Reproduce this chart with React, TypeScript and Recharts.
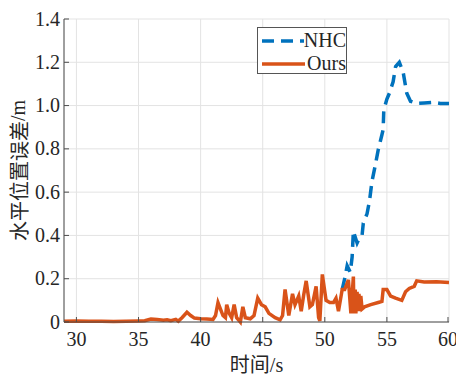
import { LineChart, Line, XAxis, YAxis, CartesianGrid, Legend } from 'recharts';

// time (s) / horizontal position error (m)
const oursTime = [29, 30, 31, 32, 33, 34, 35, 35.5, 36, 36.5, 37, 37.3, 37.6, 38, 38.2, 38.5, 38.9, 39.2, 39.5, 40, 40.5, 41, 41.2, 41.4, 41.6, 41.8, 42, 42.1, 42.3, 42.5, 42.7, 42.9, 43.2, 43.4, 43.6, 44, 44.3, 44.6, 44.9, 45.2, 45.5, 46, 46.4, 46.6, 46.8, 47.1, 47.4, 47.6, 47.9, 48.1, 48.3, 48.5, 48.8, 49, 49.3, 49.5, 49.6, 49.8, 50.1, 50.4, 50.7, 50.9, 51.1, 51.4, 51.6, 51.9, 52.1, 52.3, 52.35, 52.45, 52.5, 52.6, 52.65, 52.75, 52.8, 52.9, 53, 53.2, 53.7, 54.3, 54.6, 54.7, 55, 55.3, 55.7, 56.2, 56.5, 56.8, 57.2, 57.4, 58, 59, 60];
const oursErr = [0.004, 0.005, 0.003, 0.004, 0.002, 0.004, 0.005, 0.006, 0.014, 0.012, 0.008, 0.01, 0.006, 0.012, 0.004, 0.02, 0.045, 0.03, 0.018, 0.015, 0.014, 0.012, 0.03, 0.09, 0.06, 0.03, 0.02, 0.08, 0.04, 0.02, 0.08, 0.02, 0.0, 0.07, 0.02, 0.015, 0.03, 0.11, 0.08, 0.07, 0.04, 0.02, 0.01, 0.03, 0.15, 0.03, 0.13, 0.08, 0.12, 0.05, 0.125, 0.19, 0.07, 0.08, 0.165, 0.02, 0.005, 0.22, 0.1, 0.09, 0.09, 0.11, 0.05, 0.15, 0.15, 0.195, 0.04, 0.21, 0.04, 0.15, 0.04, 0.14, 0.05, 0.13, 0.05, 0.12, 0.06, 0.07, 0.08, 0.09, 0.095, 0.15, 0.15, 0.12, 0.11, 0.1, 0.14, 0.155, 0.165, 0.19, 0.185, 0.186, 0.182];

const nhcTime = [51.4, 51.6, 51.8, 52.05, 52.2, 52.3, 52.6, 52.8, 53, 53.1, 53.4, 53.6, 53.8, 54.05, 54.3, 54.6, 54.7, 54.75, 55, 55.2, 55.5, 55.7, 56, 56.3, 56.6, 56.9, 57.4, 58, 58.75, 59.3, 60];
const nhcErr = [0.15, 0.2, 0.26, 0.23, 0.3, 0.42, 0.365, 0.39, 0.4, 0.457, 0.5, 0.56, 0.65, 0.72, 0.795, 0.865, 0.89, 0.98, 1.03, 1.057, 1.11, 1.18, 1.2, 1.157, 1.057, 1.02, 1.01, 1.012, 1.015, 1.01, 1.01];

const xTicks = [30, 35, 40, 45, 50, 55, 60];
const yTicks = [0, 0.2, 0.4, 0.6, 0.8, 1.0, 1.2, 1.4];

const ours = oursTime.map((t, i) => ({ t, v: oursErr[i] }));
const nhc = nhcTime.map((t, i) => ({ t, v: nhcErr[i] }));

const SERIF = 'Liberation Serif';
const CJK = 'Noto Sans CJK SC';
const AXIS = '#4d4d4d';
const BLUE = '#0072BD';
const RED = '#D95319';

// default tickSize 6 + tickMargin 2 => label anchor sits 8px off the axis line
const LeftTick = (p: any) => (
  <g>
    <line x1={p.x + 8} x2={p.x + 13} y1={p.y} y2={p.y} stroke={AXIS} />
    <text x={p.x + 4} y={p.y} dy={6.5} textAnchor="end" style={{ fontFamily: SERIF, fontSize: '20px', fill: '#262626' }}>
      {p.payload.value === 0 ? '0' : p.payload.value.toFixed(1)}
    </text>
  </g>
);

const BottomTick = (p: any) => (
  <g>
    <line x1={p.x} x2={p.x} y1={p.y - 8} y2={p.y - 13} stroke={AXIS} />
    <text x={p.x} y={p.y} dy={16} textAnchor="middle" style={{ fontFamily: SERIF, fontSize: '20px', fill: '#262626' }}>
      {p.payload.value}
    </text>
  </g>
);

const RightTick = (p: any) => <line x1={p.x - 8} x2={p.x - 13} y1={p.y} y2={p.y} stroke={AXIS} />;
const TopTick = (p: any) => <line x1={p.x} x2={p.x} y1={p.y + 8} y2={p.y + 13} stroke={AXIS} />;

const LegendBox = () => (
  <div style={{ border: '1px solid #555', background: '#fff', width: 90, height: 47, fontFamily: SERIF, fontSize: 20, color: '#262626', boxSizing: 'border-box' }}>
    {[{ name: 'NHC', color: BLUE, dash: '12 7' }, { name: 'Ours', color: RED, dash: undefined }].map(e => (
      <div key={e.name} style={{ display: 'flex', alignItems: 'center', height: 21, marginTop: 2 }}>
        <svg width={48} height={10} style={{ marginLeft: 3 }}>
          <line x1={1} x2={44} y1={5} y2={5} stroke={e.color} strokeWidth={3.5} strokeDasharray={e.dash} />
        </svg>
        <span style={{ lineHeight: '21px' }}>{e.name}</span>
      </div>
    ))}
  </div>
);

export default function App() {
  return (
    <div style={{ position: 'absolute', left: 0, top: 0, width: 456, height: 377, background: '#fff' }}>
      <LineChart width={456} height={377} margin={{ top: 19, right: 7, bottom: 0, left: 0 }}>
        <CartesianGrid stroke="#e3e3e3" xAxisId="b" yAxisId="l" />
        <XAxis
          xAxisId="b"
          dataKey="t"
          type="number"
          domain={[29, 60]}
          ticks={xTicks}
          allowDataOverflow
          height={55}
          tickLine={false}
          stroke={AXIS}
          tick={BottomTick}
          label={{
            content: ({ viewBox }: any) => (
              <text x={viewBox.x + viewBox.width / 2} y={viewBox.y + 50} textAnchor="middle" style={{ fontSize: '20px', fill: '#262626' }}>
                <tspan style={{ fontFamily: CJK }}>时间</tspan>
                <tspan style={{ fontFamily: SERIF }}>/s</tspan>
              </text>
            ),
          }}
        />
        <XAxis xAxisId="t" orientation="top" type="number" domain={[29, 60]} ticks={xTicks} height={0} tickLine={false} stroke={AXIS} tick={TopTick} allowDataOverflow />
        <YAxis
          yAxisId="l"
          type="number"
          domain={[0, 1.4]}
          ticks={yTicks}
          width={64}
          tickLine={false}
          stroke={AXIS}
          tick={LeftTick}
          label={{
            content: ({ viewBox }: any) => {
              const cy = viewBox.y + viewBox.height / 2;
              return (
                <text x={18} y={cy} transform={`rotate(-90 18 ${cy})`} textAnchor="middle" dominantBaseline="central" style={{ fontSize: '20px', fill: '#262626' }}>
                  <tspan style={{ fontFamily: CJK }}>水平位置误差</tspan>
                  <tspan style={{ fontFamily: SERIF }}>/m</tspan>
                </text>
              );
            },
          }}
        />
        <YAxis yAxisId="r" orientation="right" type="number" domain={[0, 1.4]} ticks={yTicks} width={0} tickLine={false} stroke={AXIS} tick={RightTick} />
        <Legend layout="vertical" align="center" verticalAlign="middle" content={LegendBox} wrapperStyle={{ position: 'absolute', left: 257, top: 27, width: 90 }} />
        <Line xAxisId="b" yAxisId="l" data={nhc} dataKey="v" name="NHC" stroke={BLUE} strokeWidth={3.5} strokeDasharray="12 7" dot={false} isAnimationActive={false} />
        <Line xAxisId="b" yAxisId="l" data={ours} dataKey="v" name="Ours" stroke={RED} strokeWidth={3.5} dot={false} isAnimationActive={false} />
      </LineChart>
    </div>
  );
}
